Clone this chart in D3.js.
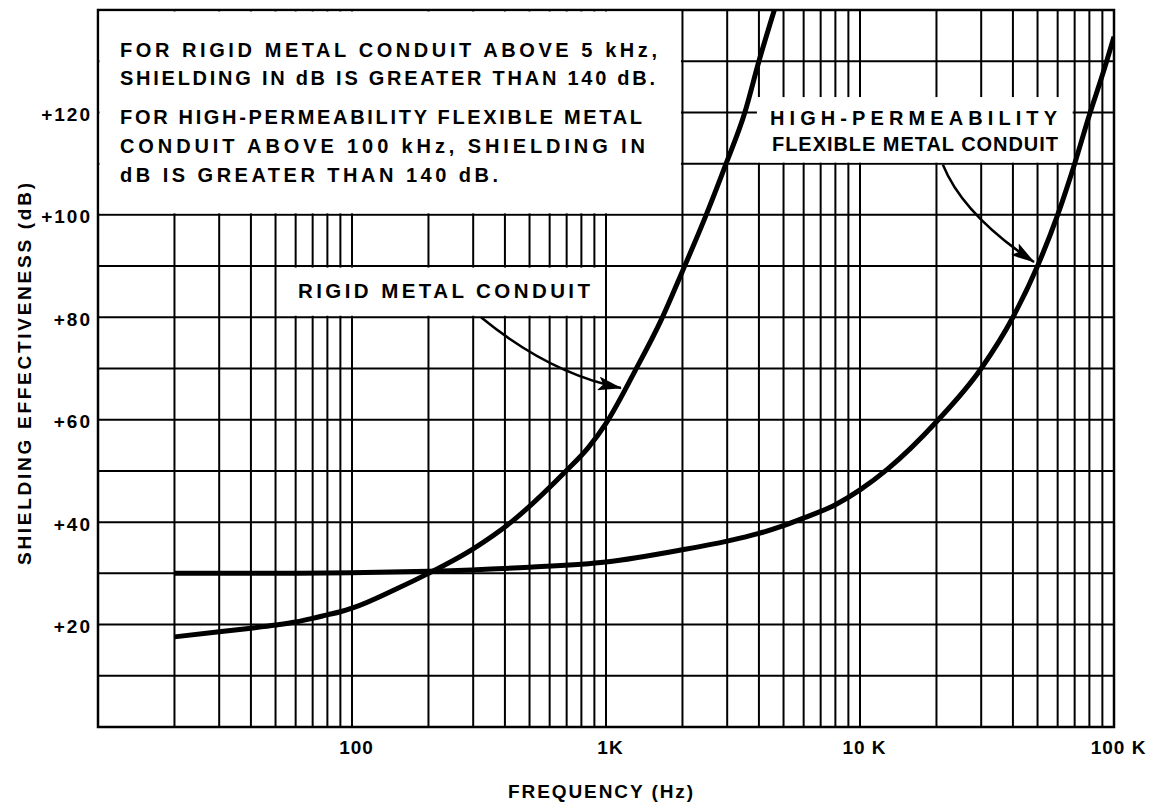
<!DOCTYPE html>
<html>
<head>
<meta charset="utf-8">
<script src="https://cdn.jsdelivr.net/npm/d3@7"></script>
<style>
  html, body { margin: 0; padding: 0; background: #fff; }
  svg { display: block; }
  text { font-family: "Liberation Sans", "DejaVu Sans", sans-serif; fill: #000; font-weight: bold; }
</style>
</head>
<body>
<svg id="chart" width="1153" height="806"></svg>
<script>
// ---------------- data ----------------
const rigidFreq = [20, 30, 40, 50, 60, 70, 80, 90, 100, 150, 200, 300, 423, 696, 850, 1000, 1300, 1650, 2000, 2480, 2970, 3520, 4000, 4600];
const rigidDb   = [17.6, 18.6, 19.3, 19.9, 20.5, 21.2, 21.9, 22.5, 23.2, 27, 30, 34.8, 40, 50, 54.5, 59.3, 69.5, 79.5, 89, 100, 110, 120, 130, 140];

const flexFreq = [20, 50, 100, 200, 500, 1000, 2000, 3000, 4000, 5000, 6000, 8000, 10000, 12800, 20000, 30000, 40000, 50000, 60000, 70000, 80000, 90000, 100000];
const flexDb   = [30, 30, 30.1, 30.4, 31.2, 32.2, 34.6, 36.3, 37.8, 39.3, 40.8, 43.4, 46.3, 50.3, 59.6, 70, 80, 90, 100, 110, 119.5, 127.3, 134.8];

const freqTicks  = [100, 1000, 10000, 100000];
const freqLabels = ["100", "1K", "10 K", "100 K"];
const dbTicks    = [20, 40, 60, 80, 100, 120];
const dbLabels   = ["+20", "+40", "+60", "+80", "+100", "+120"];

const noteLines = [
  "FOR RIGID METAL CONDUIT ABOVE 5 kHz,",
  "SHIELDING IN dB IS GREATER THAN 140 dB.",
  "FOR HIGH-PERMEABILITY FLEXIBLE METAL",
  "CONDUIT ABOVE 100 kHz, SHIELDING IN",
  "dB IS GREATER THAN 140 dB."
];
const rigidLabel = ["RIGID METAL CONDUIT"];
const flexLabel  = ["HIGH-PERMEABILITY", "FLEXIBLE METAL CONDUIT"];
const xTitle = "FREQUENCY (Hz)";
const yTitle = "SHIELDING EFFECTIVENESS (dB)";

// annotation geometry in data units [freq, dB]
const noteBox   = [[10, 140], [2000, 100]];
const rigidBox  = [[50, 90], [1000, 80]];
const flexBox   = [[4000, 123], [70000, 110]];
const rigidArrow = [[322, 80], [600, 69], [1145, 66.2]];
const flexArrow  = [[21200, 109.8], [25500, 100], [48400, 90.8]];

// ---------------- layout ----------------
const L = 98, R = 1114, T = 10, B = 727;
const svg = d3.select("#chart");
const x = d3.scaleLog().domain([10, 100000]).range([L, R]);
const y = d3.scaleLinear().domain([0, 140]).range([B, T]);

svg.append("rect").attr("width", 1153).attr("height", 806).attr("fill", "#fff");

const defs = svg.append("defs");
defs.append("clipPath").attr("id", "plotclip")
  .append("rect").attr("x", L).attr("y", T).attr("width", R - L).attr("height", B - T);

// grid
const gridF = x.ticks().filter(d => d >= 20 && d < 100000);
const gridD = y.ticks(14).filter(d => d > 0 && d < 140);
const grid = svg.append("g").attr("stroke", "#000").attr("stroke-width", 2);
grid.selectAll("line.v").data(gridF).join("line")
  .attr("x1", d => x(d)).attr("x2", d => x(d)).attr("y1", T).attr("y2", B);
grid.selectAll("line.h").data(gridD).join("line")
  .attr("x1", L).attr("x2", R).attr("y1", d => y(d)).attr("y2", d => y(d));

// frame
svg.append("rect").attr("x", L).attr("y", T).attr("width", R - L).attr("height", B - T)
  .attr("fill", "none").attr("stroke", "#000").attr("stroke-width", 2.5);

// white boxes
function box(b) {
  svg.append("rect")
    .attr("x", x(b[0][0]) + 1.5)
    .attr("y", y(b[0][1]) + 1.5)
    .attr("width", x(b[1][0]) - x(b[0][0]) - 3)
    .attr("height", y(b[1][1]) - y(b[0][1]) - 3)
    .attr("fill", "#fff");
}
box(noteBox); box(rigidBox);
svg.append("rect")
  .attr("x", x(flexBox[0][0]) - 2).attr("y", y(flexBox[0][1]))
  .attr("width", x(flexBox[1][0]) - x(flexBox[0][0]))
  .attr("height", y(flexBox[1][1]) - y(flexBox[0][1]) - 1)
  .attr("fill", "#fff");

// curves
const line = d3.line().x(d => x(d[0])).y(d => y(d[1])).curve(d3.curveMonotoneX);
const curves = svg.append("g").attr("clip-path", "url(#plotclip)");
curves.append("path").datum(rigidFreq.map((f, i) => [f, rigidDb[i]]))
  .attr("d", line).attr("fill", "none").attr("stroke", "#000").attr("stroke-width", 5)
  .attr("stroke-linejoin", "round").attr("stroke-linecap", "butt");
curves.append("path").datum(flexFreq.map((f, i) => [f, flexDb[i]]))
  .attr("d", line).attr("fill", "none").attr("stroke", "#000").attr("stroke-width", 5)
  .attr("stroke-linejoin", "round").attr("stroke-linecap", "butt");

// arrows
defs.append("marker")
  .attr("id", "ah").attr("viewBox", "0 0 24 14").attr("refX", 23).attr("refY", 7)
  .attr("markerWidth", 24).attr("markerHeight", 14).attr("markerUnits", "userSpaceOnUse")
  .attr("orient", "auto")
  .append("path").attr("d", "M0,0 L24,7 L0,14 L5,7 Z").attr("fill", "#000");
function arrow(a) {
  const p = a.map(d => [x(d[0]), y(d[1])]);
  svg.append("path")
    .attr("d", `M${p[0][0]},${p[0][1]} Q${p[1][0]},${p[1][1]} ${p[2][0]},${p[2][1]}`)
    .attr("fill", "none").attr("stroke", "#000").attr("stroke-width", 2.5)
    .attr("marker-end", "url(#ah)");
}
arrow(rigidArrow); arrow(flexArrow);

// axes tick labels
const xAxis = svg.append("g").attr("transform", `translate(0,${B})`)
  .call(d3.axisBottom(x).tickValues(freqTicks).tickFormat((d, i) => freqLabels[i]).tickSize(0));
xAxis.select(".domain").remove();
xAxis.selectAll("text").attr("y", 27).attr("dy", 0).attr("dx", 4)
  .style("font-size", "19px").style("letter-spacing", "1px").style("font-weight", "bold")
  .style("font-family", "'Liberation Sans', sans-serif").attr("fill", "#000");

const yAxis = svg.append("g").attr("transform", `translate(${L},0)`)
  .call(d3.axisLeft(y).tickValues(dbTicks).tickFormat((d, i) => dbLabels[i]).tickSize(0).tickPadding(6));
yAxis.select(".domain").remove();
yAxis.selectAll("text").attr("dy", "0.42em")
  .style("font-size", "19px").style("letter-spacing", "2px").style("font-weight", "bold")
  .style("font-family", "'Liberation Sans', sans-serif").attr("fill", "#000");

// note text
const noteBase = [57, 85, 124, 153, 182];
const noteW = [537, 535, 522, 525, 378];
svg.append("g").selectAll("text").data(noteLines).join("text")
  .attr("x", 120).attr("y", (d, i) => noteBase[i])
  .attr("textLength", (d, i) => noteW[i]).attr("lengthAdjust", "spacing")
  .style("font-size", "20px").text(d => d);

// labels
svg.append("text").attr("x", 298).attr("y", 298).attr("textLength", 292).attr("lengthAdjust", "spacing")
  .style("font-size", "20.5px").text(rigidLabel[0]);
const flexBase = [125, 151];
const flexW = [287, 286];
const flexX = [770, 772];
svg.append("g").selectAll("text").data(flexLabel).join("text")
  .attr("x", (d, i) => flexX[i]).attr("y", (d, i) => flexBase[i])
  .attr("textLength", (d, i) => flexW[i]).attr("lengthAdjust", "spacing")
  .style("font-size", "20px").text(d => d);

// titles
svg.append("text").attr("x", 508).attr("y", 798).attr("textLength", 185).attr("lengthAdjust", "spacing")
  .style("font-size", "19px").text(xTitle);
svg.append("text").attr("transform", "translate(31,374) rotate(-90)").attr("text-anchor", "middle")
  .attr("textLength", 382).attr("lengthAdjust", "spacing")
  .style("font-size", "19px").text(yTitle);
</script>
</body>
</html>
